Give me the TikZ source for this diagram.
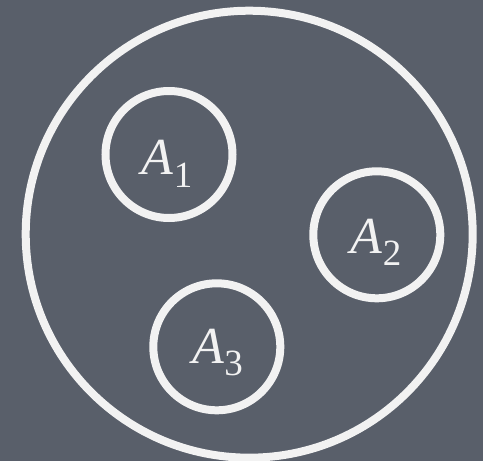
\documentclass[tikz,border=0pt]{standalone}
\usepackage{fontspec}
\setmainfont{Liberation Serif}
\definecolor{bgc}{RGB}{89,95,106}
\definecolor{ringc}{RGB}{242,242,242}
\newcommand{\setlbl}[1]{{\fontsize{52}{52}\selectfont\itshape A}\kern0.5pt\raisebox{-12.5pt}{\fontsize{37}{37}\selectfont #1}}
\begin{document}
\begin{tikzpicture}[x=1pt,y=-1pt,
  ring/.style={circle,draw=ringc,line width=8pt,inner sep=0pt},
  lbl/.style={text=ringc,inner sep=0pt,anchor=base}]
\fill[bgc] (0,0) rectangle (483,461);
\useasboundingbox (0,0) rectangle (483,461);
\clip (0,0) rectangle (483,461);
\node[ring,minimum size=447pt] (U) at (249.2,234.2) {};
\node[ring,minimum size=127pt] (a1) at (169,154.5) {};
\node[ring,minimum size=127pt] (a2) at (376.8,234.8) {};
\node[ring,minimum size=127pt] (a3) at (216.8,346.8) {};
\node[lbl] (l1) at (167,174.5) {\setlbl{1}};
\node[lbl] (l2) at (376,253) {\setlbl{2}};
\node[lbl] (l3) at (217.5,363) {\setlbl{3}};
\end{tikzpicture}
\end{document}
